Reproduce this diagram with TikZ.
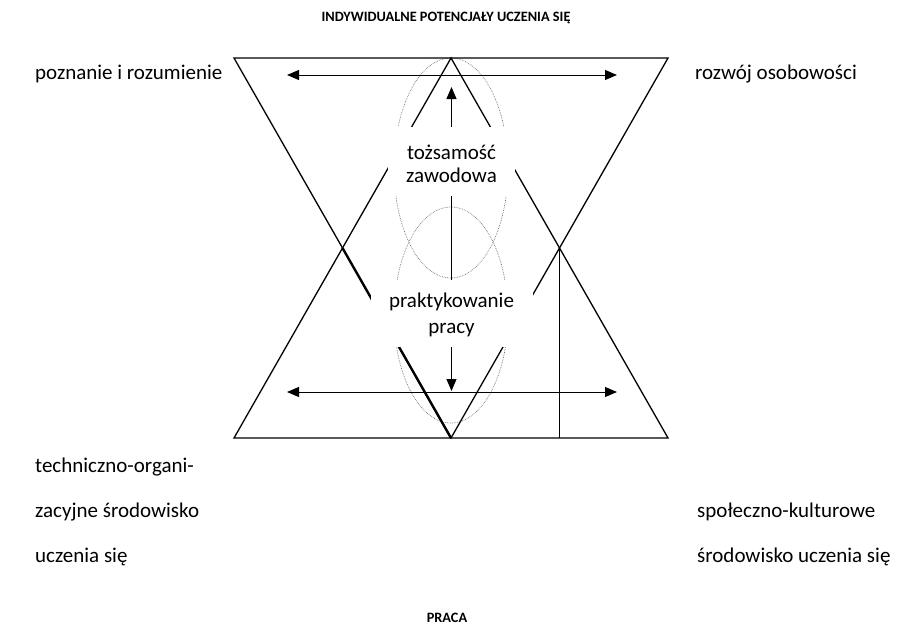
\documentclass[tikz,border=0pt]{standalone}
\usepackage{fontspec}
\setmainfont{Carlito}
\usetikzlibrary{arrows.meta,positioning}
\tikzset{
  >={Triangle[length=12pt,width=10pt]},
  edge/.style={line width=1.3pt},
  heavy/.style={line width=2.4pt},
  shaft/.style={line width=1pt},
  halo/.style={draw=black!55, densely dotted, line width=0.7pt},
  lbl/.style={inner sep=0pt, font=\fontsize{21}{24}\selectfont},
  heading/.style={inner sep=0pt, font=\bfseries\fontsize{14.3}{16}\selectfont},
  core/.style={fill=white, inner sep=0pt, align=center},
}
\begin{document}
\begin{tikzpicture}[x=1pt, y=-1pt]
  \useasboundingbox (0,0) rectangle (897,624);

  \coordinate (tl) at (234,58);
  \coordinate (tr) at (668,58);
  \coordinate (bl) at (234,438);
  \coordinate (br) at (668,438);
  \coordinate (apex) at (451,58);
  \coordinate (foot) at (451,438);
  \coordinate (xl) at (342.5,248);
  \coordinate (xr) at (559.5,248);

  \node[heading, anchor=base] (title) at (446,21) {INDYWIDUALNE POTENCJAŁY UCZENIA SIĘ};
  \node[heading, anchor=base] (praca) at (447,622) {PRACA};

  \node[lbl, anchor=base west] (pozn) at (35,79) {poznanie i rozumienie};
  \node[lbl, anchor=base west] (rozw) at (695,79) {rozwój osobowości};
  \node[lbl, anchor=base west, align=left, font=\fontsize{21}{45}\selectfont] (tech) at (35,562)
    {techniczno-organi-\\zacyjne środowisko\\uczenia się};
  \node[lbl, anchor=base west, align=left, font=\fontsize{21}{45}\selectfont] (spol) at (697,562)
    {społeczno-kulturowe\\środowisko uczenia się};

  \draw[halo] (451,168) ellipse [x radius=57, y radius=110];
  \draw[halo] (451,315) ellipse [x radius=57, y radius=108];

  \draw[edge] (foot) -- (tl) -- (tr) -- cycle;
  \draw[heavy] (xl) -- (foot);
  \draw[edge] (bl) -- (apex) -- (br) -- cycle;
  \draw[edge] (xr) -- (xr |- foot);

  \coordinate (ul) at (287,75);
  \coordinate (ur) at (617,75);
  \coordinate (ll) at (287,392);
  \coordinate (lr) at (617,392);
  \draw[shaft, <->] (ul) -- (ur);
  \draw[shaft, <->] (ll) -- (lr);

  \node[core, minimum width=127pt, text depth=14pt,
        font=\fontsize{21}{23}\selectfont, anchor=base] (tozs) at (451.5,182)
    {\rule{0pt}{32pt}tożsamość\\zawodowa};
  \node[core, minimum width=162pt, text depth=13.7pt,
        font=\fontsize{21}{25.6}\selectfont, anchor=base] (prak) at (451.5,333.3)
    {\rule{0pt}{27.7pt}praktykowanie\\pracy};

  \coordinate (uptip) at (451.5,87);
  \coordinate (dntip) at (451.5,391);
  \draw[shaft] (tozs) -- (prak);
  \draw[shaft, ->] (tozs) -- (uptip);
  \draw[shaft, ->] (prak) -- (dntip);
\end{tikzpicture}
\end{document}
